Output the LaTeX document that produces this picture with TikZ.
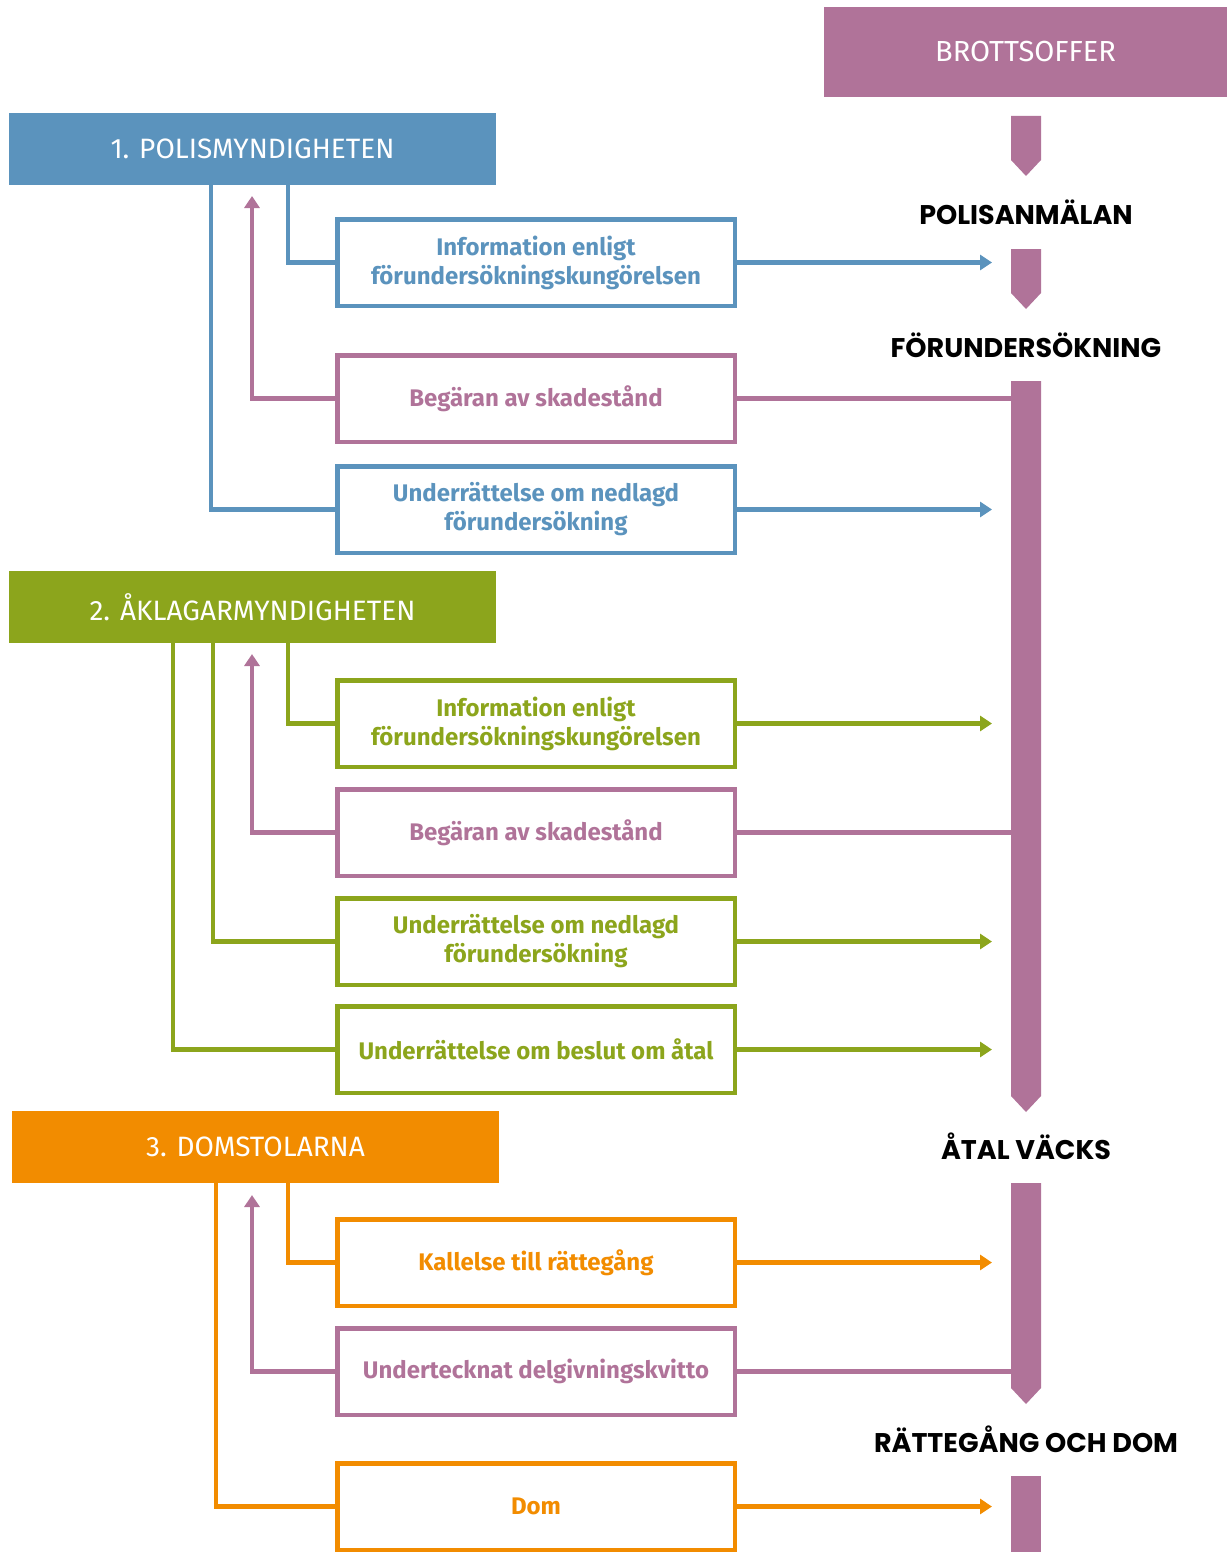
\documentclass[tikz,border=0pt]{standalone}
\usepackage{fontspec}
\setmainfont{Fira Sans}
\newfontfamily\pop{Poppins}
\usetikzlibrary{arrows.meta}
\definecolor{cblue}{HTML}{5B93BD}
\definecolor{cpurp}{HTML}{B07399}
\definecolor{cgreen}{HTML}{8CA51C}
\definecolor{corange}{HTML}{F28C00}
\begin{document}
\begin{tikzpicture}[x=1pt,y=-1pt,
 head/.style={fill=#1,minimum width=487pt,minimum height=72pt,anchor=north west,inner sep=0pt,outer sep=0pt,text=white,font=\fontsize{28}{32}\selectfont},
 infobox/.style={draw=#1,line width=4.5pt,text=#1,minimum width=397.5pt,minimum height=86.5pt,anchor=north west,inner sep=0pt,align=center,font=\bfseries\fontsize{24}{29}\selectfont},
 conn/.style={draw=#1,line width=4.5pt},
 arr/.style={draw=#1,line width=4.5pt,-{Triangle[length=12pt,width=15pt]}},
 lab/.style={font=\pop\bfseries\fontsize{27}{30}\selectfont,text=black},
 tl/.style={fill=cpurp}]
\useasboundingbox (0,0) rectangle (1227,1552);

\coordinate (tip) at (992,0);
\coordinate (tle) at (1011,0);

% top victim box
\node[fill=cpurp,minimum width=403pt,minimum height=90pt,anchor=north west,inner sep=0pt,outer sep=0pt,text=white,font=\fontsize{29}{32}\selectfont] (victim) at (824,7) {BROTTSOFFER};

% timeline
\fill[tl] (1011,116) -- (1041,116) -- (1041,160) -- (1026,176) -- (1011,160) -- cycle;
\fill[tl] (1011,249) -- (1041,249) -- (1041,293) -- (1026,309) -- (1011,293) -- cycle;
\fill[tl] (1011,381) -- (1041,381) -- (1041,1096) -- (1026,1112) -- (1011,1096) -- cycle;
\fill[tl] (1011,1183) -- (1041,1183) -- (1041,1388) -- (1026,1404) -- (1011,1388) -- cycle;
\fill[tl] (1011,1476) rectangle (1041,1552);

\node[lab] (l1) at (1026,212) {POLISANMÄLAN};
\node[lab] (l2) at (1026,345) {FÖRUNDERSÖKNING};
\node[lab] (l3) at (1026,1146) {ÅTAL VÄCKS};
\node[lab] (l4) at (1026,1439) {RÄTTEGÅNG OCH DOM};

% headers
\node[head=cblue] (ph) at (9,113) {1. POLISMYNDIGHETEN};
\node[head=cgreen] (ah) at (9,571) {2. ÅKLAGARMYNDIGHETEN};
\node[head=corange] (dh) at (12,1111) {3. DOMSTOLARNA};

% boxes
\node[infobox=cblue] (pinfo) at (335,217) {Information enligt\\förundersökningskungörelsen};
\node[infobox=cpurp] (pbeg) at (335,353) {Begäran av skadestånd};
\node[infobox=cblue] (pned) at (335,464) {Underrättelse om nedlagd\\förundersökning};

\node[infobox=cgreen] (ainfo) at (335,678) {Information enligt\\förundersökningskungörelsen};
\node[infobox=cpurp] (abeg) at (335,787) {Begäran av skadestånd};
\node[infobox=cgreen] (aned) at (335,896) {Underrättelse om nedlagd\\förundersökning};
\node[infobox=cgreen] (aatal) at (335,1004) {Underrättelse om beslut om åtal};

\node[infobox=corange] (dkall) at (335,1217) {Kallelse till rättegång};
\node[infobox=cpurp] (dund) at (335,1326) {Undertecknat delgivningskvitto};
\node[infobox=corange] (ddom) at (335,1461) {Dom};

% arrow tips of purple return lines
\coordinate (pu) at ([shift={(243,11)}]ph.south west);
\coordinate (au) at ([shift={(243,11)}]ah.south west);
\coordinate (du) at ([shift={(240,12)}]dh.south west);

% polis connectors
\draw[conn=cblue] ([xshift=279pt]ph.south west) |- (pinfo.west);
\draw[conn=cblue] ([xshift=202pt]ph.south west) |- (pned.west);
\draw[arr=cpurp] (pbeg.west) -| (pu);
\draw[arr=cblue] (pinfo.east) -- (pinfo.east -| tip);
\draw[arr=cblue] (pned.east) -- (pned.east -| tip);
\draw[conn=cpurp] (pbeg.east) -- (pbeg.east -| tle);

% aklagar connectors
\draw[conn=cgreen] ([xshift=279pt]ah.south west) |- (ainfo.west);
\draw[conn=cgreen] ([xshift=204pt]ah.south west) |- (aned.west);
\draw[conn=cgreen] ([xshift=164pt]ah.south west) |- (aatal.west);
\draw[arr=cpurp] (abeg.west) -| (au);
\draw[arr=cgreen] (ainfo.east) -- (ainfo.east -| tip);
\draw[arr=cgreen] (aned.east) -- (aned.east -| tip);
\draw[arr=cgreen] (aatal.east) -- (aatal.east -| tip);
\draw[conn=cpurp] (abeg.east) -- (abeg.east -| tle);

% domstol connectors
\draw[conn=corange] ([xshift=276pt]dh.south west) |- (dkall.west);
\draw[conn=corange] ([xshift=204pt]dh.south west) |- (ddom.west);
\draw[arr=cpurp] (dund.west) -| (du);
\draw[arr=corange] (dkall.east) -- (dkall.east -| tip);
\draw[arr=corange] (ddom.east) -- (ddom.east -| tip);
\draw[conn=cpurp] (dund.east) -- (dund.east -| tle);
\end{tikzpicture}
\end{document}
